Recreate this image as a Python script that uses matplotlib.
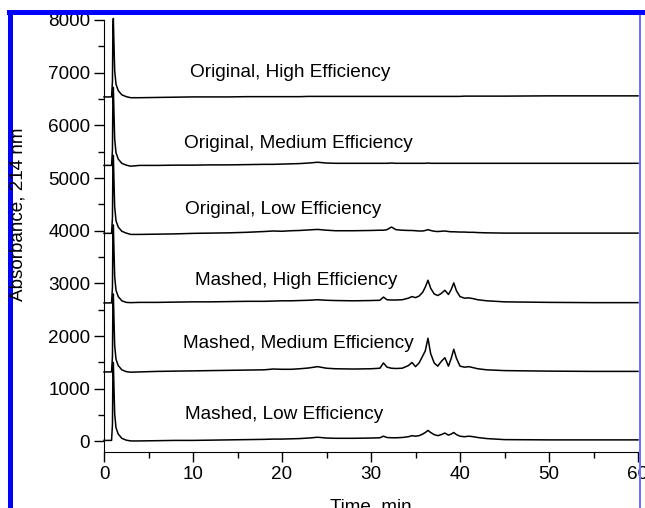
import matplotlib
matplotlib.use("Agg")
import matplotlib.pyplot as plt
from matplotlib.patches import Rectangle
from matplotlib.ticker import MultipleLocator
import numpy as np

plt.rcParams['font.family'] = ['Liberation Sans', 'DejaVu Sans']

# shared time grid (min)
time = [0, 0.85, 0.95, 1.0, 1.05, 1.12, 1.2, 1.35, 1.6, 2.0,
        2.5, 3.0, 4, 6, 8, 10, 12, 14, 16, 18,
        19, 20, 21, 22, 23, 24, 25, 26, 28, 30,
        31, 31.4, 31.8, 32.3, 32.8, 33.5, 34.2, 34.6, 35.0, 35.4,
        35.8, 36.1, 36.4, 36.7, 37.1, 37.5, 37.9, 38.3, 38.7, 39.0,
        39.3, 39.6, 40.0, 40.5, 41.0, 41.5, 42, 43, 45, 50,
        55, 60]

# absorbance above each trace's own baseline
orig_high = [0, 0, 300, 1300, 1490, 1000, 500, 240, 120, 40,
             5, -15, -15, -10, -5, 0, 0, 0, 5, 5,
             5, 5, 5, 5, 10, 10, 10, 10, 10, 10,
             10, 10, 10, 10, 10, 10, 10, 10, 10, 10,
             10, 10, 10, 10, 10, 10, 10, 10, 10, 10,
             10, 10, 10, 15, 15, 15, 15, 15, 15, 20,
             20, 20]
orig_med = [0, 0, 300, 1300, 1480, 1000, 500, 240, 120, 40,
            5, -15, 0, 0, 5, 5, 10, 10, 15, 20,
            20, 25, 30, 35, 45, 60, 45, 40, 40, 40,
            40, 40, 40, 45, 40, 40, 40, 40, 40, 40,
            40, 40, 45, 40, 40, 40, 40, 40, 40, 40,
            40, 40, 40, 40, 40, 40, 40, 40, 40, 40,
            40, 40]
orig_low = [0, 0, 300, 1300, 1480, 1000, 500, 240, 120, 40,
            5, -20, -20, -15, -10, 0, 5, 10, 20, 35,
            45, 40, 50, 55, 65, 75, 60, 50, 50, 55,
            60, 60, 70, 120, 70, 60, 55, 55, 50, 45,
            45, 55, 70, 55, 40, 35, 40, 45, 35, 30,
            30, 28, 25, 25, 20, 20, 15, 10, 5, 5,
            5, 5]
mash_high = [0, 0, 300, 1300, 1480, 1000, 500, 240, 120, 40,
             10, 5, 10, 10, 15, 20, 20, 25, 30, 30,
             35, 40, 40, 45, 50, 60, 50, 45, 40, 45,
             50, 110, 60, 55, 55, 60, 90, 120, 100, 130,
             200, 300, 430, 280, 170, 140, 180, 240, 160, 250,
             380, 230, 120, 90, 95, 80, 60, 40, 20, 10,
             5, 5]
mash_med = [0, 0, 300, 1300, 1480, 1000, 500, 240, 120, 40,
            5, -5, 0, 10, 15, 20, 25, 30, 35, 40,
            55, 50, 50, 60, 75, 100, 70, 60, 55, 60,
            70, 170, 90, 70, 65, 70, 120, 180, 100, 170,
            300, 400, 640, 350, 170, 110, 200, 270, 110, 250,
            430, 260, 110, 90, 100, 80, 60, 40, 25, 15,
            10, 10]
mash_low = [0, 0, 300, 1300, 1480, 1000, 500, 240, 120, 40,
            5, -10, -10, -5, 0, 0, 5, 10, 15, 20,
            25, 25, 30, 35, 45, 60, 45, 40, 40, 45,
            50, 80, 55, 50, 50, 55, 70, 90, 80, 90,
            120, 150, 190, 150, 110, 90, 110, 140, 100, 120,
            150, 110, 80, 70, 80, 70, 55, 35, 15, 10,
            10, 10]

traces = [orig_high, orig_med, orig_low, mash_high, mash_med, mash_low]
offsets = [6540, 5240, 3950, 2630, 1320, 20]
labels = ["Original, High Efficiency", "Original, Medium Efficiency",
          "Original, Low Efficiency", "Mashed, High Efficiency",
          "Mashed, Medium Efficiency", "Mashed, Low Efficiency"]
label_x = [20.9, 21.8, 20.1, 21.6, 21.8, 20.2]
label_y = [7000, 5650, 4400, 3050, 1850, 510]

fig = plt.figure(figsize=(6.45, 5.08), dpi=100)
ax = fig.add_axes([104 / 645, 1 - 452 / 508, 534 / 645, 432 / 508])

t = np.array(time)
for vals, off in zip(traces, offsets):
    ax.plot(t, np.array(vals) + off, color='black', lw=1.1, clip_on=False)

for txt, x, y in zip(labels, label_x, label_y):
    ax.text(x, y, txt, ha='center', va='center', fontsize=13.7)

ax.set_xlim(0, 60)
ax.set_ylim(-200, 8000)
ax.xaxis.set_major_locator(MultipleLocator(10))
ax.xaxis.set_minor_locator(MultipleLocator(5))
ax.yaxis.set_minor_locator(MultipleLocator(500))
ax.set_yticks([0, 1000, 2000, 3000, 4000, 5000, 6000, 7000, 8000])
ax.tick_params(which='major', direction='out', length=7, width=1, labelsize=13.6, pad=3)
ax.tick_params(which='minor', direction='out', length=4, width=1)
for s in ['top', 'right']:
    ax.spines[s].set_visible(False)
ax.set_xlabel("Time, min", fontsize=13.6, labelpad=11)

fig.text(18 / 645, 1 - 214 / 508, "Absorbance, 214 nm", rotation=90,
         ha='center', va='center', fontsize=13.6)

# blue frame of the scanned figure
fig.add_artist(Rectangle((7 / 645, 1 - 14.5 / 508), 1, 5 / 508,
                         transform=fig.transFigure, color='#0000ff', lw=0))
fig.add_artist(Rectangle((7.5 / 645, 0), 5 / 645, 1 - 9.5 / 508,
                         transform=fig.transFigure, color='#0000ff', lw=0))
fig.add_artist(Rectangle((639 / 645, 0), 2 / 645, 1 - 14.5 / 508,
                         transform=fig.transFigure, color='#7070ff', lw=0))

fig.savefig("out.png", dpi=100)
